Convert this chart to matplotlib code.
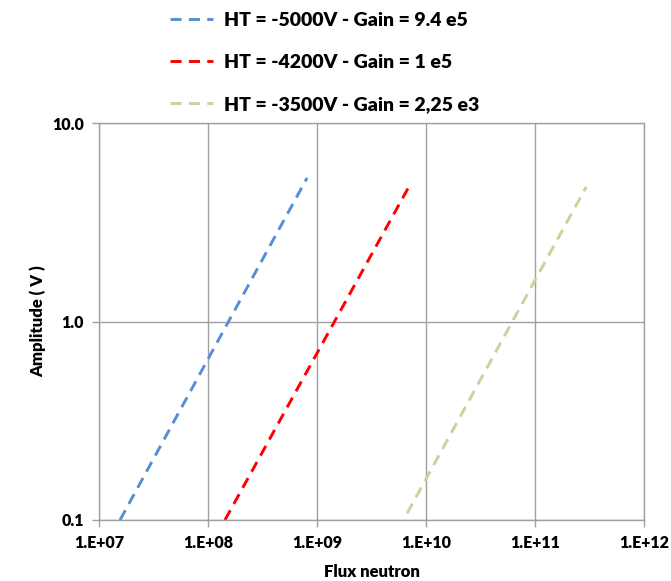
import numpy as np
import matplotlib
matplotlib.use("Agg")
import matplotlib.pyplot as plt
from matplotlib.ticker import FixedLocator, NullLocator, FuncFormatter

plt.rcParams['font.family'] = ['Lato', 'DejaVu Sans']

# values
labels = ["HT = -5000V - Gain = 9.4 e5",
          "HT = -4200V - Gain = 1 e5",
          "HT = -3500V - Gain = 2,25 e3"]
colors = ["#558ed5", "#ff0000", "#c3d69b"]

flux_5000 = [1.56e7, 8.1e8]
amp_5000 = [0.1, 5.3]
flux_4200 = [1.43e8, 7.2e9]
amp_4200 = [0.1, 4.95]
flux_3500 = [6.7e9, 2.94e11]
amp_3500 = [0.108, 4.77]

x_ticks = [1e7, 1e8, 1e9, 1e10, 1e11, 1e12]
y_ticks = [0.1, 1.0, 10.0]

fig = plt.figure(figsize=(6.71, 5.81), dpi=100)
ax = fig.add_axes([0.1475, 0.105, 0.8125, 0.683])

series = [(flux_5000, amp_5000), (flux_4200, amp_4200), (flux_3500, amp_3500)]
for (fx, am), lab, col in zip(series, labels, colors):
	ax.plot(fx, am, color=col, lw=2.1, dashes=(3.8, 2.5), label=lab,
		dash_capstyle='butt')

ax.set_xscale("log")
ax.set_yscale("log")
ax.set_xlim(1e7, 1e12)
ax.set_ylim(0.1, 10)

ax.xaxis.set_major_locator(FixedLocator(x_ticks))
ax.yaxis.set_major_locator(FixedLocator(y_ticks))
ax.xaxis.set_minor_locator(NullLocator())
ax.yaxis.set_minor_locator(NullLocator())
ax.xaxis.set_major_formatter(FuncFormatter(lambda v, p: "1.E+%02d" % int(round(np.log10(v)))))
ax.yaxis.set_major_formatter(FuncFormatter(lambda v, p: "%.1f" % v))

ax.grid(True, color="#a0a0a0", lw=1.0)
ax.set_axisbelow(True)
for s in ax.spines.values():
	s.set_color("#a0a0a0")
	s.set_linewidth(1.0)
ax.tick_params(axis='both', which='major', color="#a0a0a0", length=5, width=1,
	labelsize=11.5, pad=6)
for t in ax.get_xticklabels() + ax.get_yticklabels():
	t.set_fontweight("heavy")

ax.set_xlabel("Flux neutron", fontsize=12, fontweight="heavy", labelpad=9)
ax.set_ylabel("Amplitude ( V )", fontsize=12, fontweight="heavy", labelpad=4)

leg = fig.legend(loc="upper left", bbox_to_anchor=(0.227, 1.01), frameon=False,
	prop={"size": 14, "weight": "heavy"}, handlelength=2.2, handletextpad=0.6,
	labelspacing=1.3)

fig.savefig("out.png", dpi=100)
